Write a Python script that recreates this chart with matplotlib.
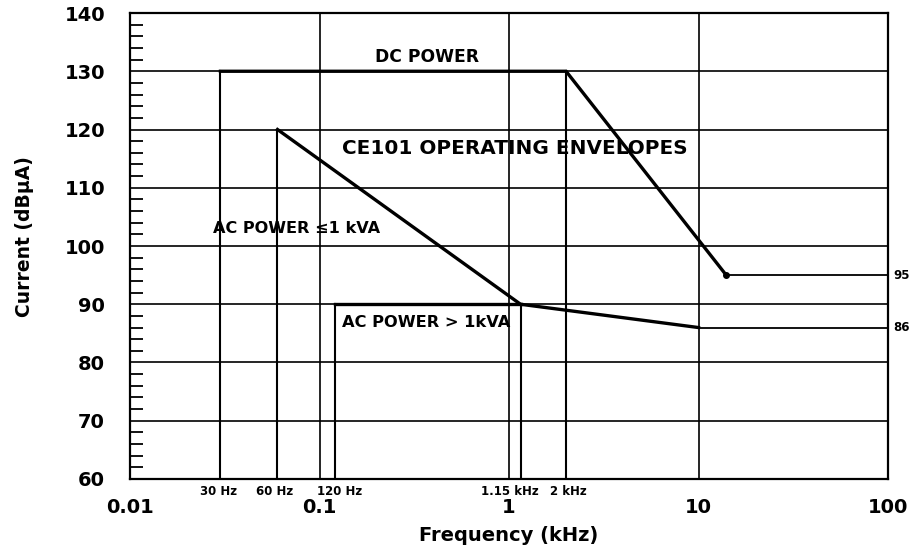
import numpy as np
import matplotlib
matplotlib.use("Agg")
from matplotlib import pyplot as plt
from matplotlib.ticker import FixedLocator, NullFormatter
import matplotlib.transforms as mtransforms

plt.rcParams["font.family"] = ["DejaVu Sans"]
plt.rcParams["font.weight"] = "bold"

# envelope corners (frequency in kHz, level in dBuA)
dc_freq = [0.03, 2, 14]
dc_level = [130, 130, 95]
ac_small_freq = [0.06, 1.15, 10]
ac_small_level = [120, 90, 86]
ac_large_freq = [0.12, 1.15]
ac_large_level = [90, 90]

# thin vertical bounds from the bottom of the chart
bound_freq = [0.03, 0.06, 0.12, 1.15, 2]
bound_top = [130, 120, 90, 90, 130]
bound_labels = ["30 Hz", "60 Hz", "120 Hz", "1.15 kHz", "2 kHz"]
bound_label_dx = [-1, -2, 4, -8, 2]

# flat tails to 100 kHz
tail_start = [14, 10]
tail_level = [95, 86]
tail_labels = ["95", "86"]

x_ticks = [0.01, 0.1, 1, 10, 100]
x_ticklabels = ["0.01", "0.1", "1", "10", "100"]
y_ticks = [60, 70, 80, 90, 100, 110, 120, 130, 140]

fig = plt.figure(figsize=(9.17, 5.56), dpi=100)
ax = fig.add_axes([0.1418, 0.1385, 0.8266, 0.8381])
ax.set_xscale("log")
ax.set_xlim(0.01, 100)
ax.set_ylim(60, 140)

ax.set_xticks(x_ticks)
ax.set_xticklabels(x_ticklabels)
ax.xaxis.set_minor_locator(FixedLocator([]))
ax.xaxis.set_minor_formatter(NullFormatter())
ax.set_yticks(y_ticks)
ax.yaxis.set_minor_locator(FixedLocator(np.arange(60, 141, 2)))
ax.tick_params(axis="x", which="both", length=0, pad=14, labelsize=14)
ax.tick_params(axis="y", which="major", length=0, pad=18, labelsize=14)
ax.tick_params(axis="y", which="minor", direction="in", length=9, width=1.3)
for lab in ax.get_xticklabels() + ax.get_yticklabels():
    lab.set_fontweight("bold")

ax.grid(True, which="major", color="black", linewidth=1.2)
for sp in ax.spines.values():
    sp.set_linewidth(1.6)

# thin vertical bounds
for f, top in zip(bound_freq, bound_top):
    ax.plot([f, f], [60, top], color="black", linewidth=1.5)

# tails
for f, lvl in zip(tail_start, tail_level):
    ax.plot([f, 100], [lvl, lvl], color="black", linewidth=1.3)

# envelopes
ax.plot(dc_freq, dc_level, color="black", linewidth=2.4, solid_joinstyle="miter")
ax.plot(ac_small_freq, ac_small_level, color="black", linewidth=2.4)
ax.plot(ac_large_freq, ac_large_level, color="black", linewidth=2.4)
ax.plot(dc_freq[-1], dc_level[-1], "o", color="black", markersize=4)

trans = mtransforms.blended_transform_factory(ax.transData, ax.transAxes)
for f, lab, dx in zip(bound_freq, bound_labels, bound_label_dx):
    ax.annotate(lab, xy=(f, 0), xycoords=trans, xytext=(dx, -4),
                textcoords="offset points", ha="center", va="top",
                fontsize=8.5, fontweight="bold")

for lvl, lab in zip(tail_level, tail_labels):
    ax.annotate(lab, xy=(100, lvl), xytext=(4, 0), textcoords="offset points",
                ha="left", va="center", fontsize=8.5, fontweight="bold",
                annotation_clip=False)

ax.text(0.37, 132.5, "DC POWER", ha="center", va="center", fontsize=12.3, fontweight="bold")
ax.text(1.07, 116.8, "CE101 OPERATING ENVELOPES", ha="center", va="center",
        fontsize=14.4, fontweight="bold")
ax.text(0.076, 103, "AC POWER \u22641 kVA", ha="center", va="center",
        fontsize=11.6, fontweight="bold")
ax.text(0.366, 86.8, "AC POWER > 1kVA", ha="center", va="center",
        fontsize=11.7, fontweight="bold")

ax.set_xlabel("Frequency (kHz)", fontsize=14, fontweight="bold", labelpad=6)
ax.set_ylabel("Current (dB\u00b5A)", fontsize=13.5, fontweight="bold")
ax.yaxis.set_label_coords(-0.127, 0.52)

fig.savefig("out.png", dpi=100)
